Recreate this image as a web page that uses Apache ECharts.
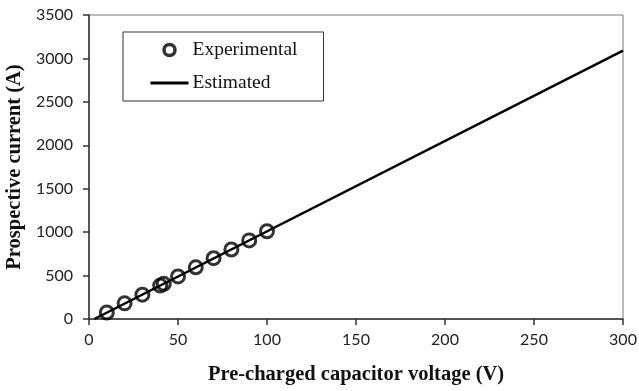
<!DOCTYPE html>
<html><head><meta charset="utf-8">
<script src="https://cdn.jsdelivr.net/npm/echarts@6/dist/echarts.min.js"></script>
<style>html,body{margin:0;padding:0;background:#fff}#c{width:639px;height:391px}</style>
</head><body><div id="c"></div>
<script>
const expVoltage = [10, 20, 30, 40, 42, 50, 60, 70, 80, 90, 100];
const expCurrent = [75, 180, 280, 385, 405, 490, 595, 700, 800, 905, 1010];
const estVoltage = [3, 300];
const estCurrent = [0, 3090];
const xTicks = [0, 50, 100, 150, 200, 250, 300];
const yTicks = [0, 500, 1000, 1500, 2000, 2500, 3000, 3500];

const chart = echarts.init(document.getElementById('c'), null, {renderer: 'canvas'});
const labelFont = {fontFamily: 'Lato, "Open Sans", sans-serif', fontSize: 16, color: '#222'};
const titleFont = {fontFamily: '"Liberation Serif", "DejaVu Serif", serif', fontSize: 20.5, fontWeight: 'bold', color: '#111'};
chart.setOption({
  animation: false,
  backgroundColor: '#fff',
  grid: {left: 89, right: 16, top: 15, bottom: 72, show: true, borderColor: '#777', borderWidth: 1,
         containLabel: false, outerBoundsMode: 'none'},
  legend: {
    left: 123, top: 32, orient: 'vertical',
    borderColor: '#333', borderWidth: 1,
    padding: [8, 26, 8, 26],
    itemWidth: 38, itemHeight: 11, itemGap: 13,
    textStyle: {fontFamily: '"Liberation Serif", serif', fontSize: 19.5, color: '#111', padding: [0, 0, 0, -1]},
    data: [
      {name: 'Experimental', icon: 'circle', itemStyle: {color: '#fff', borderColor: '#000', borderWidth: 3.5}},
      {name: 'Estimated', itemStyle: {color: 'rgba(0,0,0,0)', borderColor: 'rgba(0,0,0,0)', borderWidth: 0, opacity: 0},
       lineStyle: {color: '#000', width: 3}}
    ]
  },
  xAxis: {
    type: 'value', min: xTicks[0], max: xTicks[xTicks.length - 1], interval: 50,
    name: 'Pre-charged capacitor voltage (V)', nameLocation: 'middle', nameGap: 45,
    nameTextStyle: titleFont,
    axisLine: {show: true, onZero: false, lineStyle: {color: '#333', width: 1.5}},
    axisTick: {show: true, length: 6, lineStyle: {color: '#333', width: 1.5}},
    axisLabel: Object.assign({margin: 13}, labelFont),
    splitLine: {show: false}
  },
  yAxis: {
    type: 'value', min: yTicks[0], max: yTicks[yTicks.length - 1], interval: 500,
    name: 'Prospective current (A)', nameLocation: 'middle', nameGap: 59,
    nameTextStyle: titleFont,
    axisLine: {show: true, lineStyle: {color: '#333', width: 1.5}},
    axisTick: {show: true, length: 6, lineStyle: {color: '#333', width: 1.5}},
    axisLabel: Object.assign({margin: 16, formatter: v => String(v)}, labelFont),
    splitLine: {show: false}
  },
  series: [
    {
      name: 'Estimated', type: 'line', symbol: 'none', z: 2,
      lineStyle: {color: '#000', width: 2.5},
      itemStyle: {color: '#000'},
      data: estVoltage.map((v, i) => [v, estCurrent[i]])
    },
    {
      name: 'Experimental', type: 'scatter', symbol: 'circle', symbolSize: 13, z: 3,
      itemStyle: {color: 'rgba(0,0,0,0)', borderColor: '#000', borderWidth: 3},
      data: expVoltage.map((v, i) => [v, expCurrent[i]])
    }
  ]
});
</script></body></html>
